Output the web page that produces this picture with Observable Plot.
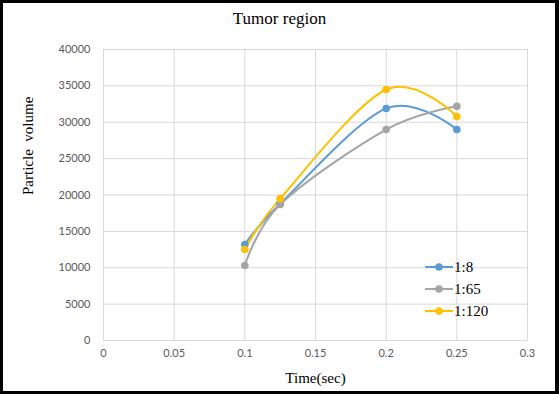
<!DOCTYPE html>
<html><head><meta charset="utf-8">
<script src="https://cdn.jsdelivr.net/npm/d3@7"></script>
<script src="https://cdn.jsdelivr.net/npm/@observablehq/plot@0.6"></script>
<style>
body{margin:0;background:#fff;}
#wrap{position:relative;width:559px;height:394px;overflow:hidden;background:#fff;}
#border{position:absolute;left:0;top:0;width:559px;height:394px;box-sizing:border-box;border:3px solid #000;border-right-width:4px;pointer-events:none;}
#title{position:absolute;left:0;width:559px;top:9px;text-align:center;font:17px "Liberation Serif",serif;color:#000;}
#chart{position:absolute;left:0;top:40px;}
#legend{position:absolute;left:425px;top:256px;font:15px "Liberation Serif",serif;color:#000;}
.item{display:flex;align-items:center;height:22px;}
.item svg{margin-right:1px;}
</style></head>
<body>
<div id="wrap">
<div id="title"></div>
<div id="chart"></div>
<div id="legend"></div>
<div id="border"></div>
</div>
<script>
const title = "Tumor region";
const xLabel = "Time(sec)";
const yLabel = "Particle  volume";
const times = [0.1, 0.125, 0.2, 0.25];
const seriesNames = ["1:8", "1:65", "1:120"];
const seriesColors = ["#5b9bd5", "#a5a5a5", "#ffc000"];
const v_1_8 = [13200, 18800, 31900, 29000];
const v_1_65 = [10300, 18700, 29000, 32200];
const v_1_120 = [12500, 19500, 34500, 30800];
const xTicks = [0, 0.05, 0.1, 0.15, 0.2, 0.25, 0.3];
const xTickLabels = ["0", "0.05", "0.1", "0.15", "0.2", "0.25", "0.3"];
const yTicks = [0, 5000, 10000, 15000, 20000, 25000, 30000, 35000, 40000];

const values = [v_1_8, v_1_65, v_1_120];
const data = [];
seriesNames.forEach((s, i) => times.forEach((t, j) => data.push({series: s, t, v: values[i][j]})));

document.getElementById("title").textContent = title;

const tickFont = {fontFamily: "Lato, 'Open Sans', sans-serif", fontSize: 11, fill: "#595959"};
const plot = Plot.plot({
  width: 559, height: 354,
  marginLeft: 103, marginRight: 32, marginTop: 9, marginBottom: 54,
  style: {background: "transparent", overflow: "visible"},
  x: {domain: [0, 0.3]},
  y: {domain: [0, 40000]},
  color: {domain: seriesNames, range: seriesColors},
  marks: [
    Plot.gridX(xTicks, {stroke: "#d9d9d9", strokeOpacity: 1, strokeWidth: 1}),
    Plot.gridY(yTicks, {stroke: "#d9d9d9", strokeOpacity: 1, strokeWidth: 1}),
    Plot.axisX(xTicks, {tickSize: 0, tickPadding: 9, tickFormat: (d, i) => xTickLabels[i], ...tickFont, label: null}),
    Plot.axisY(yTicks, {tickSize: 0, tickPadding: 13, tickFormat: d => String(d), ...tickFont, label: null}),
    Plot.text([xLabel], {frameAnchor: "bottom", dy: 42, text: d => d, fontFamily: "'Liberation Serif', serif", fontSize: 15, fontWeight: "normal", fill: "#000"}),
    Plot.text([yLabel], {frameAnchor: "left", dx: -75, rotate: -90, text: d => d, fontFamily: "'Liberation Serif', serif", fontSize: 15, fontWeight: "normal", fill: "#000"}),
    ...seriesNames.map(s => Plot.line(data.filter(d => d.series === s), {x: "t", y: "v", stroke: "series", strokeWidth: 2, curve: "cardinal", tension: 0})),
    ...seriesNames.map(s => Plot.dot(data.filter(d => d.series === s), {x: "t", y: "v", fill: "series", r: 3.8, stroke: "none"}))
  ]
});
document.getElementById("chart").appendChild(plot);

const legend = document.getElementById("legend");
seriesNames.forEach((s, i) => {
  const div = document.createElement("div");
  div.className = "item";
  div.innerHTML = `<svg width="28" height="10"><line x1="0" x2="28" y1="5" y2="5" stroke="${seriesColors[i]}" stroke-width="2"/><circle cx="14" cy="5" r="3.8" fill="${seriesColors[i]}"/></svg><span>${s}</span>`;
  legend.appendChild(div);
});
</script>
</body></html>
